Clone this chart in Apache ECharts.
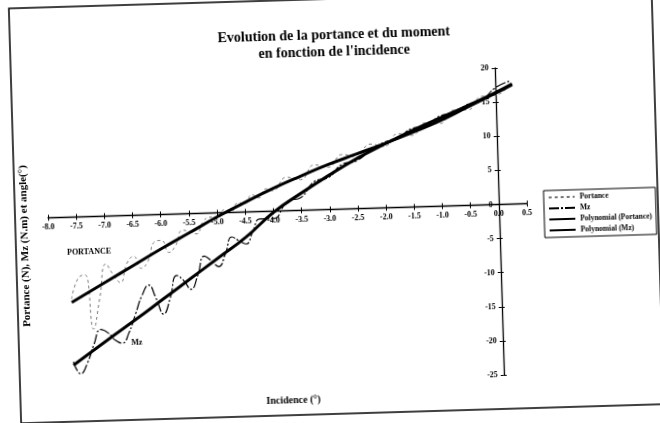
<!DOCTYPE html>
<html>
<head>
<meta charset="utf-8">
<script src="https://cdn.jsdelivr.net/npm/echarts@6/dist/echarts.min.js"></script>
<style>
  html, body { margin: 0; padding: 0; background: #fff; overflow: hidden; width: 660px; height: 423px; position: relative; }
  #main { position: absolute; left: -20px; top: -20px; width: 700px; height: 463px; transform: rotate(-1.7deg); transform-origin: 50% 50%; }
</style>
</head>
<body>
<div id="main"></div>
<script>
// Incidence (°) samples of the measured curves
const incidenceRaw = [-7.625,-7.5,-7.375,-7.25,-7.125,-7,-6.875,-6.75,-6.625,-6.5,-6.375,-6.25,-6.125,-6,-5.875,-5.75,-5.625,-5.5,-5.375,-5.25,-5.125,-5,-4.875,-4.75,-4.625,-4.5,-4.375,-4.25,-4.125,-4,-3.75,-3.5,-3.25,-3,-2.75,-2.5,-2.25,-2,-1.75,-1.5,-1.25,-1,-0.75,-0.5,-0.25,0,0.25];
// Measured lift (N)
const portance = [-12.0,-9.0,-8.5,-16.5,-12.0,-7.0,-8.6,-9.8,-7.0,-6.0,-7.8,-6.8,-4.0,-3.8,-5.6,-4.6,-2.4,-2.6,-3.0,-1.2,-0.6,-1.0,0.4,0.1,1.4,1.2,2.5,2.0,3.3,3.0,4.9,4.5,6.6,6.2,8.0,7.6,9.4,9.0,10.8,10.5,12.3,12.1,14.0,14.0,15.9,16.0,17.5];
// Measured pitching moment Mz (N.m)
const mz = [-21.2,-23.0,-21.4,-18.7,-16.6,-17.1,-18.2,-18.7,-17.2,-14.5,-11.8,-10.3,-12.3,-14.6,-12.3,-9.0,-9.8,-11.1,-9.1,-6.3,-7.0,-7.9,-6.1,-3.6,-4.2,-4.7,-2.9,-1.1,-1.1,-1.1,1.3,1.9,4.2,4.7,6.6,7.0,8.5,9.6,10.1,11.5,11.8,13.2,13.6,14.8,15.3,17.1,18.0];

// Polynomial trend lines
const incidenceFit = [-7.625,-7,-6.5,-6,-5.5,-5,-4.5,-4,-3.5,-3,-2.5,-2,-1.5,-1,-0.5,0,0.3];
const portanceFit = [-12.5,-9.6,-7.3,-5.0,-2.8,-0.6,1.4,3.3,5.0,6.6,8.0,9.4,10.9,12.5,14.4,16.3,17.5];
const mzFit = [-21.7,-18.1,-15.3,-12.4,-9.5,-6.6,-3.7,-0.2,2.5,5.0,7.3,9.3,11.2,12.9,14.6,16.4,17.6];

// Axis ranges and tick step
const xRange = [-8, 0.5], xStep = 0.5;
const yRange = [-25, 20], yStep = 5;

// Curve annotations (data coordinates)
const notePortance = { text: 'PORTANCE', at: [-7.29, -5.25] };
const noteMz = { text: 'Mz', at: [-6.49, -18.7] };

const zip = (xs, ys) => xs.map((x, i) => [x, ys[i]]);
const SERIF = '"Liberation Serif", "Times New Roman", serif';
// The canvas has a 20px margin around the visible page so the tilted frame is not clipped
const M = 20;
const GRID = { left: 48 + M, right: 133 + M, top: 73 + M, bottom: 43 + M };

const chart = echarts.init(document.getElementById('main'), null, { renderer: 'canvas' });

const tickStyle = { color: '#000', width: 1 };
const labelStyle = { fontFamily: SERIF, fontWeight: 'bold', fontSize: 8, color: '#000' };

function axes(xOffset, yOffset) {
  return {
    xAxis: [{
      type: 'value', min: xRange[0], max: xRange[1], interval: xStep, position: 'bottom', offset: xOffset,
      axisLine: { onZero: false, lineStyle: { color: '#000', width: 1.3 } }, splitLine: { show: false },
      axisTick: { show: true, length: 3, lineStyle: tickStyle },
      axisLabel: { ...labelStyle, formatter: v => v.toFixed(1), margin: 5, hideOverlap: false }
    }, {
      type: 'value', min: xRange[0], max: xRange[1], interval: xStep, position: 'bottom', offset: xOffset,
      axisLine: { show: false, onZero: false }, splitLine: { show: false },
      axisTick: { show: true, inside: true, length: 3, lineStyle: tickStyle },
      axisLabel: { show: false }
    }],
    yAxis: [{
      type: 'value', min: yRange[0], max: yRange[1], interval: yStep, position: 'left', offset: yOffset,
      axisLine: { onZero: false, lineStyle: { color: '#000', width: 1.3 } }, splitLine: { show: false },
      axisTick: { show: true, length: 3, lineStyle: tickStyle },
      axisLabel: { ...labelStyle, margin: 6, hideOverlap: false }
    }, {
      type: 'value', min: yRange[0], max: yRange[1], interval: yStep, position: 'left', offset: yOffset,
      axisLine: { show: false, onZero: false }, splitLine: { show: false },
      axisTick: { show: true, inside: true, length: 3, lineStyle: tickStyle },
      axisLabel: { show: false }
    }]
  };
}

chart.setOption({
  animation: false,
  backgroundColor: 'transparent',
  grid: { ...GRID, containLabel: false },
  ...axes(0, 0),
  legend: {
    orient: 'vertical', left: 544 + M, top: 197 + M,
    backgroundColor: '#fff', borderColor: '#000', borderWidth: 1,
    padding: [3, 4, 3, 4], itemGap: 3, itemWidth: 26, itemHeight: 8,
    itemStyle: { opacity: 0 },
    textStyle: { fontFamily: SERIF, fontWeight: 'bold', fontSize: 7.5, color: '#000' },
    data: ['Portance', 'Mz', 'Polynomial (Portance)', 'Polynomial (Mz)']
  },
  series: [
    {
      name: 'Portance', type: 'line', data: zip(incidenceRaw, portance),
      smooth: 0.5, symbol: 'none',
      lineStyle: { color: '#777', width: 1, type: [3, 3] }, itemStyle: { color: '#777' }
    },
    {
      name: 'Mz', type: 'line', data: zip(incidenceRaw, mz),
      smooth: 0.5, symbol: 'none',
      lineStyle: { color: '#000', width: 1.2, type: [10, 2, 2, 2] }, itemStyle: { color: '#000' }
    },
    {
      name: 'Polynomial (Portance)', type: 'line', data: zip(incidenceFit, portanceFit),
      smooth: true, symbol: 'none',
      lineStyle: { color: '#000', width: 3 }, itemStyle: { color: '#000' }
    },
    {
      name: 'Polynomial (Mz)', type: 'line', data: zip(incidenceFit, mzFit),
      smooth: true, symbol: 'none',
      lineStyle: { color: '#000', width: 3 }, itemStyle: { color: '#000' }
    }
  ]
});

// Move both axes so they cross at the origin
const origin = chart.convertToPixel({ gridIndex: 0 }, [0, 0]);
const corner = chart.convertToPixel({ gridIndex: 0 }, [xRange[0], yRange[0]]);
chart.setOption(axes(-(corner[1] - origin[1]), -(origin[0] - corner[0])));

const pP = chart.convertToPixel({ gridIndex: 0 }, notePortance.at);
const pM = chart.convertToPixel({ gridIndex: 0 }, noteMz.at);

chart.setOption({
  graphic: [
    { type: 'rect', shape: { x: 15 + M, y: -1 + M, width: 643, height: 415 }, style: { fill: 'none', stroke: '#000', lineWidth: 1.5 }, silent: true, z: -1 },
    { type: 'text', x: 339 + M, y: 27 + M, style: { text: 'Evolution de la portance et du moment\nen fonction de l\'incidence', textAlign: 'center', font: 'bold 14px ' + SERIF, lineHeight: 17, fill: '#000' } },
    { type: 'text', x: 24 + M, y: 237 + M, rotation: Math.PI / 2, style: { text: 'Portance (N), Mz (N.m) et angle(°)', textAlign: 'center', textVerticalAlign: 'middle', font: 'bold 11px ' + SERIF, fill: '#000' } },
    { type: 'text', x: 288 + M, y: 399 + M, style: { text: 'Incidence (°)', textAlign: 'center', textVerticalAlign: 'middle', font: 'bold 10px ' + SERIF, fill: '#000' } },
    { type: 'text', x: pP[0], y: pP[1], style: { text: notePortance.text, textAlign: 'center', textVerticalAlign: 'middle', font: 'bold 8px ' + SERIF, fill: '#000' } },
    { type: 'text', x: pM[0], y: pM[1], style: { text: noteMz.text, textAlign: 'center', textVerticalAlign: 'middle', font: 'bold 8px ' + SERIF, fill: '#000' } }
  ]
});
</script>
</body>
</html>
